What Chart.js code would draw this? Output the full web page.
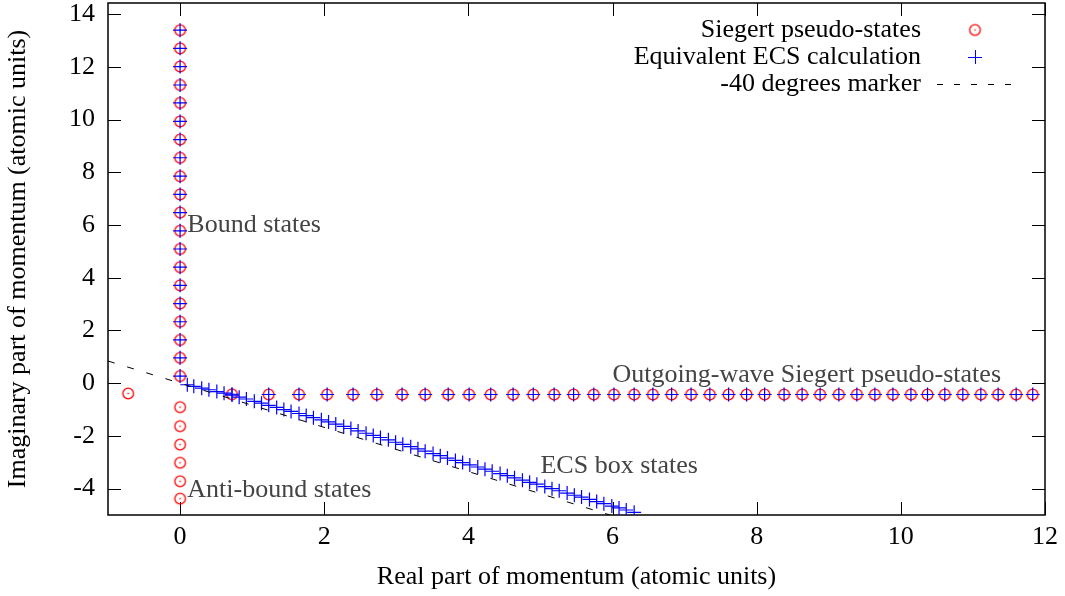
<!DOCTYPE html>
<html>
<head>
<meta charset="utf-8">
<script src="https://cdn.jsdelivr.net/npm/chart.js@4.4.1/dist/chart.umd.min.js"></script>
<style>
  html, body { margin: 0; padding: 0; background: #fff; }
</style>
</head>
<body>
<canvas id="momentumCanvas" width="1065" height="596"></canvas>
<script>
// Siegert pseudo-states: bound states sit on the positive imaginary axis
const boundIm = [0.27, 0.96, 1.64, 2.33, 3.02, 3.71, 4.40, 5.09, 5.78, 6.47,
                 7.16, 7.85, 8.55, 9.24, 9.93, 10.63, 11.31, 12.01, 12.70, 13.39];
// anti-bound states on the negative imaginary axis
const antiBoundIm = [-0.91, -1.63, -2.33, -3.02, -3.72, -4.38];
// the lone state left of the axis
const leftRe = [-0.72];
const leftIm = [-0.39];
// outgoing-wave states along a row just below the real axis
const outgoingRe = [0.72, 1.23, 1.65, 2.04, 2.40, 2.73, 3.08, 3.40, 3.72, 4.01,
                    4.31, 4.62, 4.90, 5.19, 5.46, 5.74, 6.02, 6.30, 6.56, 6.82,
                    7.09, 7.35, 7.61, 7.86, 8.11, 8.38, 8.63, 8.88, 9.14, 9.39,
                    9.64, 9.89, 10.14, 10.37, 10.61, 10.86, 11.11, 11.35, 11.60, 11.83];
const outgoingIm = [-0.42, -0.43, -0.43, -0.43, -0.43, -0.43, -0.43, -0.43, -0.43, -0.43,
                    -0.43, -0.43, -0.43, -0.43, -0.43, -0.43, -0.43, -0.43, -0.43, -0.43,
                    -0.43, -0.43, -0.43, -0.43, -0.43, -0.43, -0.43, -0.43, -0.43, -0.43,
                    -0.43, -0.43, -0.43, -0.43, -0.43, -0.43, -0.43, -0.43, -0.43, -0.43];
// ECS box states, rotated into the lower half plane
const boxRe = [0.10, 0.19, 0.30, 0.40, 0.51, 0.61, 0.72, 0.82, 0.92, 1.03,
               1.13, 1.23, 1.34, 1.44, 1.54, 1.65, 1.75, 1.85, 1.96, 2.06,
               2.16, 2.27, 2.37, 2.47, 2.58, 2.68, 2.78, 2.89, 2.99, 3.09,
               3.20, 3.30, 3.40, 3.51, 3.61, 3.71, 3.82, 3.92, 4.02, 4.13,
               4.23, 4.33, 4.44, 4.54, 4.64, 4.75, 4.85, 4.95, 5.06, 5.16,
               5.26, 5.37, 5.47, 5.57, 5.68, 5.78, 5.88, 5.99, 6.09, 6.19, 6.30];
const boxIm = [-0.06, -0.12, -0.19, -0.25, -0.32, -0.38, -0.45, -0.53, -0.60, -0.69,
               -0.76, -0.84, -0.92, -1.00, -1.07, -1.15, -1.23, -1.31, -1.39, -1.47,
               -1.55, -1.64, -1.72, -1.81, -1.90, -1.98, -2.06, -2.15, -2.24, -2.32,
               -2.41, -2.49, -2.58, -2.67, -2.75, -2.84, -2.93, -3.01, -3.10, -3.18,
               -3.26, -3.34, -3.43, -3.51, -3.59, -3.68, -3.76, -3.83, -3.92, -4.00,
               -4.08, -4.17, -4.25, -4.32, -4.41, -4.49, -4.57, -4.66, -4.73, -4.81, -4.90];
// -40 degree reference line, end points
const markerRe = [-1, 6.5];
const markerIm = [0.84, -5.45];

const xTicks = [0, 2, 4, 6, 8, 10, 12];
const yTicks = [-4, -2, 0, 2, 4, 6, 8, 10, 12, 14];

const legendNames = ['Siegert pseudo-states', 'Equivalent ECS calculation', '-40 degrees marker'];
const notes = [
  { text: 'Bound states', x: 0.1, y: 6.0 },
  { text: 'Anti-bound states', x: 0.1, y: -4.05 },
  { text: 'Outgoing-wave Siegert pseudo-states', x: 6.0, y: 0.3 },
  { text: 'ECS box states', x: 5.0, y: -3.15 }
];

const serif = '"Liberation Serif", "Times New Roman", serif';
const RED = '#ff0000';
const BLUE = '#0000ff';

function pairs(xs, ys) {
  return xs.map((x, i) => ({ x: x, y: ys[i] }));
}

// open circle with a dot in the middle
function ringWithDot(color) {
  const c = document.createElement('canvas');
  c.width = 15; c.height = 15;
  const g = c.getContext('2d');
  g.strokeStyle = color;
  g.lineWidth = 1.3;
  g.beginPath();
  g.arc(7.5, 7.5, 5.3, 0, Math.PI * 2);
  g.stroke();
  g.fillStyle = color;
  g.fillRect(6.8, 6.8, 1.4, 1.4);
  return c;
}
const ring = ringWithDot(RED);

const siegertPts = [].concat(
  boundIm.map(v => ({ x: 0, y: v })),
  antiBoundIm.map(v => ({ x: 0, y: v })),
  pairs(leftRe, leftIm),
  pairs(outgoingRe, outgoingIm)
);
const ecsPts = [].concat(
  boundIm.map(v => ({ x: 0, y: v })),
  pairs(outgoingRe, outgoingIm),
  pairs(boxRe, boxIm)
);

// border with inward tick marks on all four sides
const frameTicks = {
  id: 'frameTicks',
  beforeDatasetsDraw(chart) {
    const { ctx, chartArea: a, scales } = chart;
    const len = 13;
    ctx.save();
    ctx.strokeStyle = '#000';
    ctx.lineWidth = 1.5;
    ctx.strokeRect(a.left, a.top, a.right - a.left, a.bottom - a.top);
    ctx.lineWidth = 1;
    ctx.beginPath();
    xTicks.forEach(v => {
      const px = Math.round(scales.x.getPixelForValue(v)) + 0.5;
      ctx.moveTo(px, a.bottom); ctx.lineTo(px, a.bottom - len);
      ctx.moveTo(px, a.top); ctx.lineTo(px, a.top + len);
    });
    yTicks.forEach(v => {
      const py = Math.round(scales.y.getPixelForValue(v)) + 0.5;
      ctx.moveTo(a.left, py); ctx.lineTo(a.left + len, py);
      ctx.moveTo(a.right, py); ctx.lineTo(a.right - len, py);
    });
    ctx.stroke();
    ctx.restore();
  }
};

// text labels in the plot and the key in the top right corner
const labelsAndKey = {
  id: 'labelsAndKey',
  afterDraw(chart) {
    const { ctx, chartArea: a, scales } = chart;
    ctx.save();
    ctx.font = '26px ' + serif;
    ctx.textBaseline = 'middle';
    ctx.textAlign = 'left';
    ctx.fillStyle = '#444';
    notes.forEach(n => {
      ctx.fillText(n.text, scales.x.getPixelForValue(n.x), scales.y.getPixelForValue(n.y));
    });

    const textRight = a.right - 124;
    const symX = a.right - 70;
    const rowY = [a.top + 27, a.top + 54, a.top + 81];
    ctx.fillStyle = '#000';
    ctx.textAlign = 'right';
    legendNames.forEach((t, i) => ctx.fillText(t, textRight, rowY[i]));

    ctx.drawImage(ring, symX - 7.5, rowY[0] - 7.5);
    ctx.strokeStyle = BLUE;
    ctx.lineWidth = 1;
    ctx.beginPath();
    ctx.moveTo(symX - 7, rowY[1] + 0.5); ctx.lineTo(symX + 7, rowY[1] + 0.5);
    ctx.moveTo(symX + 0.5, rowY[1] - 7); ctx.lineTo(symX + 0.5, rowY[1] + 7);
    ctx.stroke();
    ctx.strokeStyle = '#000';
    ctx.setLineDash([6, 11]);
    ctx.beginPath();
    ctx.moveTo(a.right - 108, rowY[2] + 0.5); ctx.lineTo(a.right - 34, rowY[2] + 0.5);
    ctx.stroke();
    ctx.restore();
  }
};

const config = {
  type: 'scatter',
  data: {
    datasets: [
      {
        label: legendNames[2],
        data: pairs(markerRe, markerIm),
        showLine: true,
        borderColor: '#000',
        borderWidth: 1,
        borderDash: [7, 13],
        pointRadius: 0,
        clip: 0
      },
      {
        label: legendNames[1],
        data: ecsPts,
        pointStyle: 'cross',
        pointRadius: 7,
        pointHoverRadius: 7,
        borderColor: BLUE,
        backgroundColor: BLUE,
        borderWidth: 1.2
      },
      {
        label: legendNames[0],
        data: siegertPts,
        pointStyle: ring,
        pointRadius: 6,
        borderColor: RED,
        backgroundColor: RED
      }
    ]
  },
  options: {
    responsive: false,
    animation: false,
    devicePixelRatio: 1,
    layout: { autoPadding: false, padding: { left: 0, right: 20, top: 3, bottom: 0 } },
    plugins: { legend: { display: false }, tooltip: { enabled: false } },
    scales: {
      x: {
        type: 'linear',
        min: -1,
        max: 12,
        grid: { display: false, drawTicks: false },
        border: { display: false },
        afterBuildTicks: s => { s.ticks = xTicks.map(v => ({ value: v })); },
        afterFit: s => { s.height = 81; s.paddingLeft = 0; s.paddingRight = 0; },
        ticks: { color: '#000', padding: 7, maxRotation: 0, font: { family: serif, size: 26 } },
        title: {
          display: true,
          text: 'Real part of momentum (atomic units)',
          color: '#000',
          font: { family: serif, size: 26 },
          padding: { top: 0, bottom: 3 }
        }
      },
      y: {
        type: 'linear',
        min: -5,
        max: 14.42,
        grid: { display: false, drawTicks: false },
        border: { display: false },
        afterBuildTicks: s => { s.ticks = yTicks.map(v => ({ value: v })); },
        afterFit: s => { s.width = 108; s.paddingTop = 0; s.paddingBottom = 0; },
        ticks: { color: '#000', padding: 13, font: { family: serif, size: 26 } },
        title: {
          display: true,
          text: 'Imaginary part of momentum (atomic units)',
          color: '#000',
          font: { family: serif, size: 26 },
          padding: { top: 3, bottom: 0 }
        }
      }
    }
  },
  plugins: [frameTicks, labelsAndKey]
};

const ctx = document.getElementById('momentumCanvas').getContext('2d');
new Chart(ctx, config);
</script>
</body>
</html>
